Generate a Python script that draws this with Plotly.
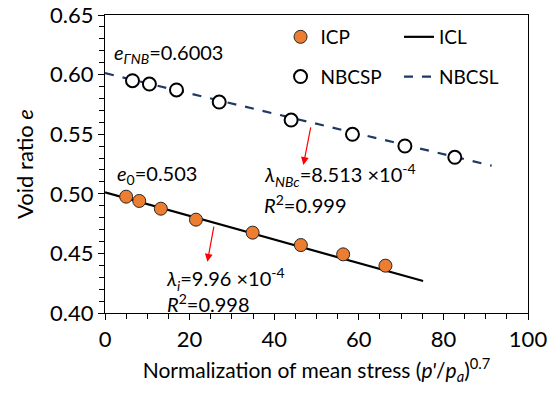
import plotly.graph_objects as go

# ---- data ----
icp_x = [5.0, 8.1, 13.2, 21.5, 34.9, 46.3, 56.3, 66.3]
icp_y = [0.4976, 0.4940, 0.4875, 0.4783, 0.4674, 0.4570, 0.4492, 0.4397]
nbcsp_x = [6.5, 10.5, 16.9, 27.0, 44.0, 58.5, 70.9, 82.7]
nbcsp_y = [0.5949, 0.5921, 0.5871, 0.5770, 0.5619, 0.5499, 0.5401, 0.5306]
icl_x = [0, 75.2]
icl_y = [0.5012, 0.4268]
nbcsl_x = [0, 91.4]
nbcsl_y = [0.6012, 0.5236]

FONT = "Lato"
FS = 22
fig = go.Figure()

fig.add_trace(go.Scatter(x=icl_x, y=icl_y, mode="lines", name="ICL",
                         line=dict(color="black", width=2.2),
                         legend="legend2", legendgroup="a"))
fig.add_trace(go.Scatter(x=nbcsl_x, y=nbcsl_y, mode="lines", name="NBCSL",
                         line=dict(color="#1F3864", width=2.2, dash="dash"),
                         legend="legend2", legendgroup="b"))
fig.add_trace(go.Scatter(x=icp_x, y=icp_y, mode="markers", name="ICP",
                         marker=dict(size=13, color="#ED7D31",
                                     line=dict(color="#262626", width=1)),
                         legend="legend", legendgroup="c"))
fig.add_trace(go.Scatter(x=nbcsp_x, y=nbcsp_y, mode="markers", name="NBCSP",
                         marker=dict(size=13, color="white",
                                     line=dict(color="black", width=2)),
                         legend="legend", legendgroup="d"))

ann_font = dict(family=FONT, size=20, color="black")
anns = [
    ("<i>e</i><sub><i>ΓNB</i></sub>=0.6003", 1.6, 0.6173),
    ("<i>e</i><sub>0</sub>=0.503", 2.4, 0.5158),
    ("<i>λ</i><sub><i>NBc</i></sub>=8.513 ×10<sup>-4</sup>", 37.2, 0.5160),
    ("<i>R</i><sup>2</sup>=0.999", 37.2, 0.4914),
    ("<i>λ</i><sub><i>i</i></sub>=9.96 ×10<sup>-4</sup><br><i>R</i><sup>2</sup>=0.998", 14.0, 0.4190),
]
for txt, ax_, ay_ in anns:
    fig.add_annotation(x=ax_, y=ay_, xref="x", yref="y", text=txt,
                       showarrow=False, xanchor="left", yanchor="middle",
                       align="left", font=ann_font)

# red arrows
for (x0, y0, x1, y1) in [(48.7, 0.5569, 46.9, 0.5242), (25.8, 0.4738, 24.2, 0.4430)]:
    fig.add_annotation(x=x1, y=y1, ax=x0, ay=y0, xref="x", yref="y",
                       axref="x", ayref="y", text="", showarrow=True,
                       arrowhead=2, arrowsize=1.3, arrowwidth=1.2,
                       arrowcolor="#FF0000")

axis_common = dict(showline=True, linecolor="black", linewidth=1.2, mirror=True,
                   ticks="outside", ticklen=6, tickcolor="black", tickwidth=1.2,
                   showgrid=False, zeroline=False, automargin=False,
                   tickfont=dict(family=FONT, size=FS, color="black"))

fig.update_xaxes(range=[0, 100], dtick=20, tick0=0,
                 minor=dict(dtick=5, ticks="outside", ticklen=5, tickcolor="black", tickwidth=1.2),
                 title=dict(text="Normalization of mean stress (<i>p'</i>/<i>p<sub>a</sub></i>)<sup>0.7</sup>",
                            font=dict(family=FONT, size=21, color="black"), standoff=12),
                 **axis_common)
fig.update_yaxes(range=[0.40, 0.65], dtick=0.05, tick0=0.40, tickformat=".2f",
                 minor=dict(dtick=0.01, ticks="outside", ticklen=5, tickcolor="black", tickwidth=1.2),
                 title=dict(text="Void ratio <i>e</i>",
                            font=dict(family=FONT, size=FS, color="black"), standoff=10),
                 **axis_common)

leg_common = dict(bgcolor="rgba(0,0,0,0)", borderwidth=0,
                  font=dict(family=FONT, size=19, color="black"),
                  orientation="v", tracegroupgap=12,
                  xanchor="left", yanchor="top", yref="paper", xref="paper")
fig.update_layout(
    width=555, height=393,
    margin=dict(l=105, r=27, t=15, b=80),
    paper_bgcolor="white", plot_bgcolor="white",
    showlegend=True,
    legend=dict(x=0.415, y=0.99, **leg_common),
    legend2=dict(x=0.695, y=0.99, **leg_common),
    font=dict(family=FONT, size=FS, color="black"),
)

fig.write_html("out.html")
